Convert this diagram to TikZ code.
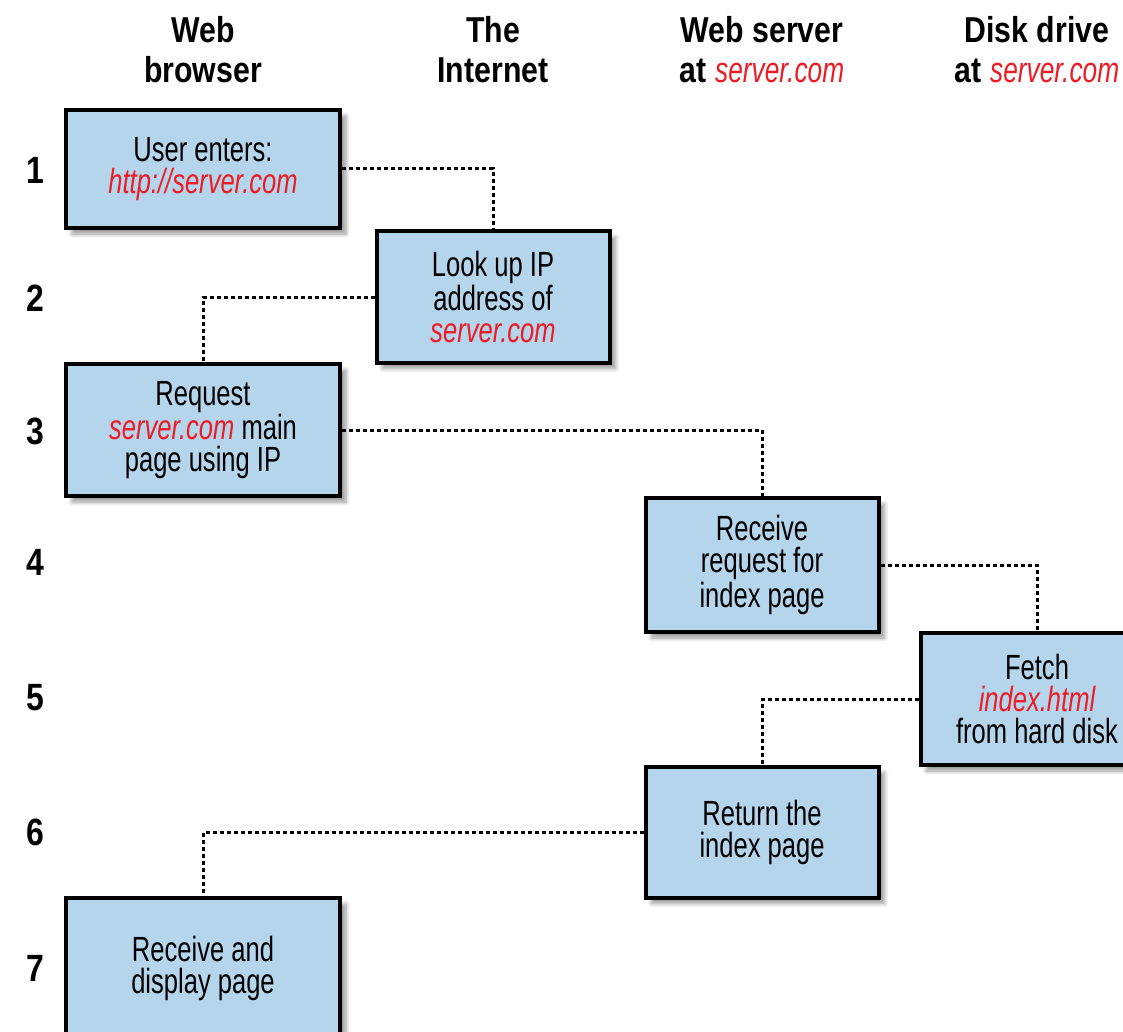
\documentclass[tikz,border=0pt]{standalone}
\usepackage{fontspec}
\setmainfont{Liberation Sans}[FakeStretch=0.73, BoldFeatures={FakeStretch=0.84}]
\usetikzlibrary{shadows}
\usetikzlibrary{shadows.blur}
\definecolor{boxblue}{HTML}{b4d5eb}
\definecolor{urlred}{HTML}{ed1c24}
\newcommand{\addr}[1]{\textcolor{urlred}{\itshape #1}}

\begin{document}
\begin{tikzpicture}[x=0.5pt, y=-0.5pt,
stepbox/.style = {shape=rectangle, line width=2pt, draw=black,
  fill=boxblue, align=center, inner sep=0pt,
  font=\fontsize{17.5}{16}\selectfont,
  blur shadow={shadow xshift=3pt, shadow yshift=-3pt, shadow blur steps=6}},
wide/.style = {minimum width=137pt},
narrow/.style = {minimum width=116.5pt},
colhead/.style = {align=center, inner sep=0pt,
  font=\bfseries\fontsize{18}{20}\selectfont},
rownum/.style = {inner sep=0pt, font=\bfseries\fontsize{19}{20}\selectfont},
link/.style = {line width=1.5pt, dash pattern=on 2pt off 1.5pt}
]
\useasboundingbox (0,0) rectangle (1123,1032);

% column heads
\node [colhead] (hbrowser) at (203,50) {Web\\browser};
\node [colhead] (hnet) at (493,50) {The\\Internet};
\node [colhead] (hserver) at (762,50) {Web server\\at {\mdseries\addr{server.com}}};
\node [colhead] (hdisk) at (1037,50) {Disk drive\\at {\mdseries\addr{server.com}}};

% step numbers
\foreach \n/\y in {1/170, 2/298, 3/431, 4/562, 5/698, 6/832, 7/968}
  \node [rownum] (r\n) at (35,\y) {\n};

% steps
\node [stepbox, wide, minimum height=59pt] (b1) at (203,169)
  {User enters:\\\addr{http://server.com}};
\node [stepbox, narrow, minimum height=65.5pt] (b2) at (493,297)
  {Look up IP\\address of\\\addr{server.com}};
\node [stepbox, wide, minimum height=66pt] (b3) at (203,430)
  {Request\\\addr{server.com} main\\page using IP};
\node [stepbox, narrow, minimum height=67pt] (b4) at (762,565)
  {Receive\\request for\\index page};
\node [stepbox, narrow, minimum height=66pt] (b5) at (1037,699)
  {Fetch\\\addr{index.html}\\from hard disk};
\node [stepbox, narrow, minimum height=65.5pt] (b6) at (762,832)
  {Return the\\index page};
\node [stepbox, wide, minimum height=70pt] (b7) at (203,968)
  {Receive and\\display page};

% hand-offs
\draw [link] (b1.east) -| (b2.north);
\draw [link] (b2.west) -| (b3.north);
\draw [link] (b3.east) -| (b4.north);
\draw [link] (b4.east) -| (b5.north);
\draw [link] (b5.west) -| (b6.north);
\draw [link] (b6.west) -| (b7.north);

\end{tikzpicture}
\end{document}
